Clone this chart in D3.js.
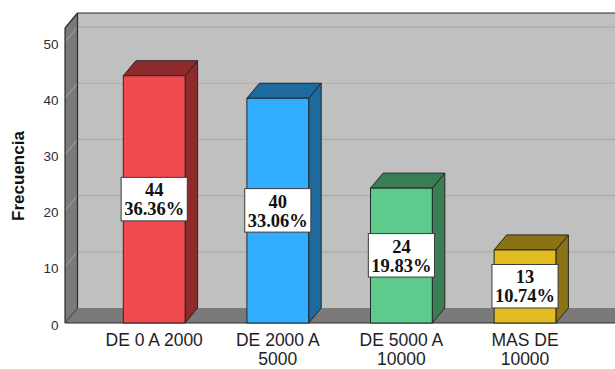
<!DOCTYPE html>
<html>
<head>
<meta charset="utf-8">
<script src="https://cdn.jsdelivr.net/npm/d3@7"></script>
<style>
  html, body { margin: 0; padding: 0; background: #fff; }
  svg { display: block; }
</style>
</head>
<body>
<svg id="chart" width="615" height="369"></svg>
<script>
// Ingreso mensual: frecuencia y porcentaje por rango
const categories = ["DE 0 A 2000", "DE 2000 A 5000", "DE 5000 A 10000", "MAS DE 10000"];
const counts = [44, 40, 24, 13];
const percents = ["36.36%", "33.06%", "19.83%", "10.74%"];
const yTicks = [0, 10, 20, 30, 40, 50];
const frontColors = ["#ef4b4f", "#31adff", "#5ccb8b", "#e2bd22"];
const shadeColors = ["#8f2a2c", "#1e6a9f", "#3a7e55", "#8a7215"];

const W = 615, H = 369;
const depthX = 12.5, depthY = 15;
const wallLeft = 65;

const svg = d3.select("#chart");

const y = d3.scaleLinear().domain([0, 52.5]).range([323, 28]);
const x = d3.scaleBand().domain(categories).range([61.5, 617.7]).paddingInner(0.5).paddingOuter(0.5);

const y0 = y(0), yTop = y(52.5);

// back wall
svg.append("rect")
  .attr("x", wallLeft + depthX).attr("y", yTop - depthY)
  .attr("width", W - wallLeft).attr("height", y0 - yTop)
  .attr("fill", "#c0c0c0");

// gridlines on the back wall
svg.append("g").selectAll("line").data(yTicks.filter(d => d > 0)).join("line")
  .attr("x1", wallLeft + depthX).attr("x2", W + 10)
  .attr("y1", d => y(d) - depthY).attr("y2", d => y(d) - depthY)
  .attr("stroke", "#acacac").attr("stroke-width", 1.2);

// left side wall
svg.append("polygon")
  .attr("points", [[wallLeft, yTop], [wallLeft + depthX, yTop - depthY], [wallLeft + depthX, y0 - depthY], [wallLeft, y0]].join(" "))
  .attr("fill", "#7a7a7a");

// gridlines on the side wall
svg.append("g").selectAll("line").data(yTicks.filter(d => d > 0)).join("line")
  .attr("x1", wallLeft).attr("x2", wallLeft + depthX)
  .attr("y1", d => y(d)).attr("y2", d => y(d) - depthY)
  .attr("stroke", "#a4a4a4").attr("stroke-width", 1);

// floor
svg.append("polygon")
  .attr("points", [[wallLeft, y0], [wallLeft + depthX, y0 - depthY], [W + 20, y0 - depthY], [W + 20, y0]].join(" "))
  .attr("fill", "#7a7a7a");

// frame edges
const edge = svg.append("g").attr("fill", "none").attr("stroke", "#2b2b2b").attr("stroke-width", 1.2);
edge.append("line").attr("x1", wallLeft + depthX).attr("x2", W + 10).attr("y1", yTop - depthY).attr("y2", yTop - depthY);
edge.append("line").attr("x1", wallLeft + depthX).attr("x2", wallLeft + depthX).attr("y1", yTop - depthY).attr("y2", y0 - depthY);
edge.append("line").attr("x1", wallLeft).attr("x2", wallLeft + depthX).attr("y1", yTop).attr("y2", yTop - depthY);
edge.append("line").attr("x1", wallLeft).attr("x2", wallLeft).attr("y1", yTop).attr("y2", y0);
edge.append("line").attr("x1", wallLeft).attr("x2", wallLeft + depthX).attr("y1", y0).attr("y2", y0 - depthY).attr("stroke", "#555");
edge.append("line").attr("x1", wallLeft).attr("x2", W + 10).attr("y1", y0).attr("y2", y0);

// y tick labels
svg.append("g").selectAll("text").data(yTicks).join("text")
  .attr("x", 58.5).attr("y", d => y(d) + 3)
  .attr("text-anchor", "end").attr("dominant-baseline", "middle")
  .attr("font-family", "Liberation Sans, Arial, sans-serif").attr("font-size", 13.5)
  .attr("fill", "#2e2e2e")
  .text(d => d);

// y axis title
svg.append("text")
  .attr("transform", "translate(24,176) rotate(-90)")
  .attr("text-anchor", "middle")
  .attr("font-family", "Liberation Sans, Arial, sans-serif").attr("font-size", 17)
  .attr("font-weight", "bold").attr("fill", "#111")
  .text("Frecuencia");

// 3D bars
const bars = svg.append("g").selectAll("g").data(categories).join("g");
bars.each(function (c, i) {
  const g = d3.select(this);
  const x0 = x(c), x1 = x(c) + x.bandwidth();
  const yt = y(counts[i]);
  // side face
  g.append("polygon")
    .attr("points", [[x1, yt], [x1 + depthX, yt - depthY], [x1 + depthX, y0 - depthY], [x1, y0]].join(" "))
    .attr("fill", shadeColors[i]).attr("stroke", "#262626").attr("stroke-width", 1).attr("stroke-linejoin", "round");
  // top face
  g.append("polygon")
    .attr("points", [[x0, yt], [x0 + depthX, yt - depthY], [x1 + depthX, yt - depthY], [x1, yt]].join(" "))
    .attr("fill", shadeColors[i]).attr("stroke", "#262626").attr("stroke-width", 1).attr("stroke-linejoin", "round");
  // front face
  g.append("rect")
    .attr("x", x0).attr("y", yt).attr("width", x.bandwidth()).attr("height", y0 - yt)
    .attr("fill", frontColors[i]).attr("stroke", "#262626").attr("stroke-width", 1);
});

// value labels
const labels = svg.append("g").selectAll("g").data(categories).join("g")
  .attr("transform", (c, i) => `translate(${x(c) + x.bandwidth() / 2},${(y(counts[i]) + y0) / 2})`);
labels.each(function (c, i) {
  const g = d3.select(this);
  const t = g.append("text")
    .attr("text-anchor", "middle")
    .attr("font-family", "Liberation Serif, 'Times New Roman', serif")
    .attr("font-size", 18.5).attr("font-weight", "bold").attr("fill", "#111");
  t.append("tspan").attr("x", 0).attr("y", -3).text(counts[i]);
  t.append("tspan").attr("x", 0).attr("y", 16).text(percents[i]);
  const bb = t.node().getBBox();
  g.insert("rect", "text")
    .attr("x", bb.x - 3).attr("y", -22)
    .attr("width", bb.width + 6).attr("height", 43.5)
    .attr("fill", "#fff").attr("stroke", "#3a3a3a").attr("stroke-width", 1);
});

// category labels, wrapped to the band
const xl = svg.append("g").selectAll("text").data(categories).join("text")
  .attr("text-anchor", "middle")
  .attr("font-family", "Liberation Sans, Arial, sans-serif").attr("font-size", 17.5)
  .attr("fill", "#1e1e1e")
  .attr("transform", c => `translate(${x(c) + x.bandwidth() / 2},345.5)`);
xl.each(function (c) {
  const t = d3.select(this);
  const words = c.split(" ");
  const maxW = x.step() * 0.92;
  let line = [], lines = [];
  const probe = t.append("tspan");
  words.forEach(w => {
    const test = line.concat(w).join(" ");
    probe.text(test);
    if (probe.node().getComputedTextLength() > maxW && line.length) {
      lines.push(line.join(" "));
      line = [w];
    } else {
      line.push(w);
    }
  });
  lines.push(line.join(" "));
  probe.remove();
  lines.forEach((l, k) => t.append("tspan").attr("x", 0).attr("y", k * 19.7).text(l));
});
</script>
</body>
</html>
